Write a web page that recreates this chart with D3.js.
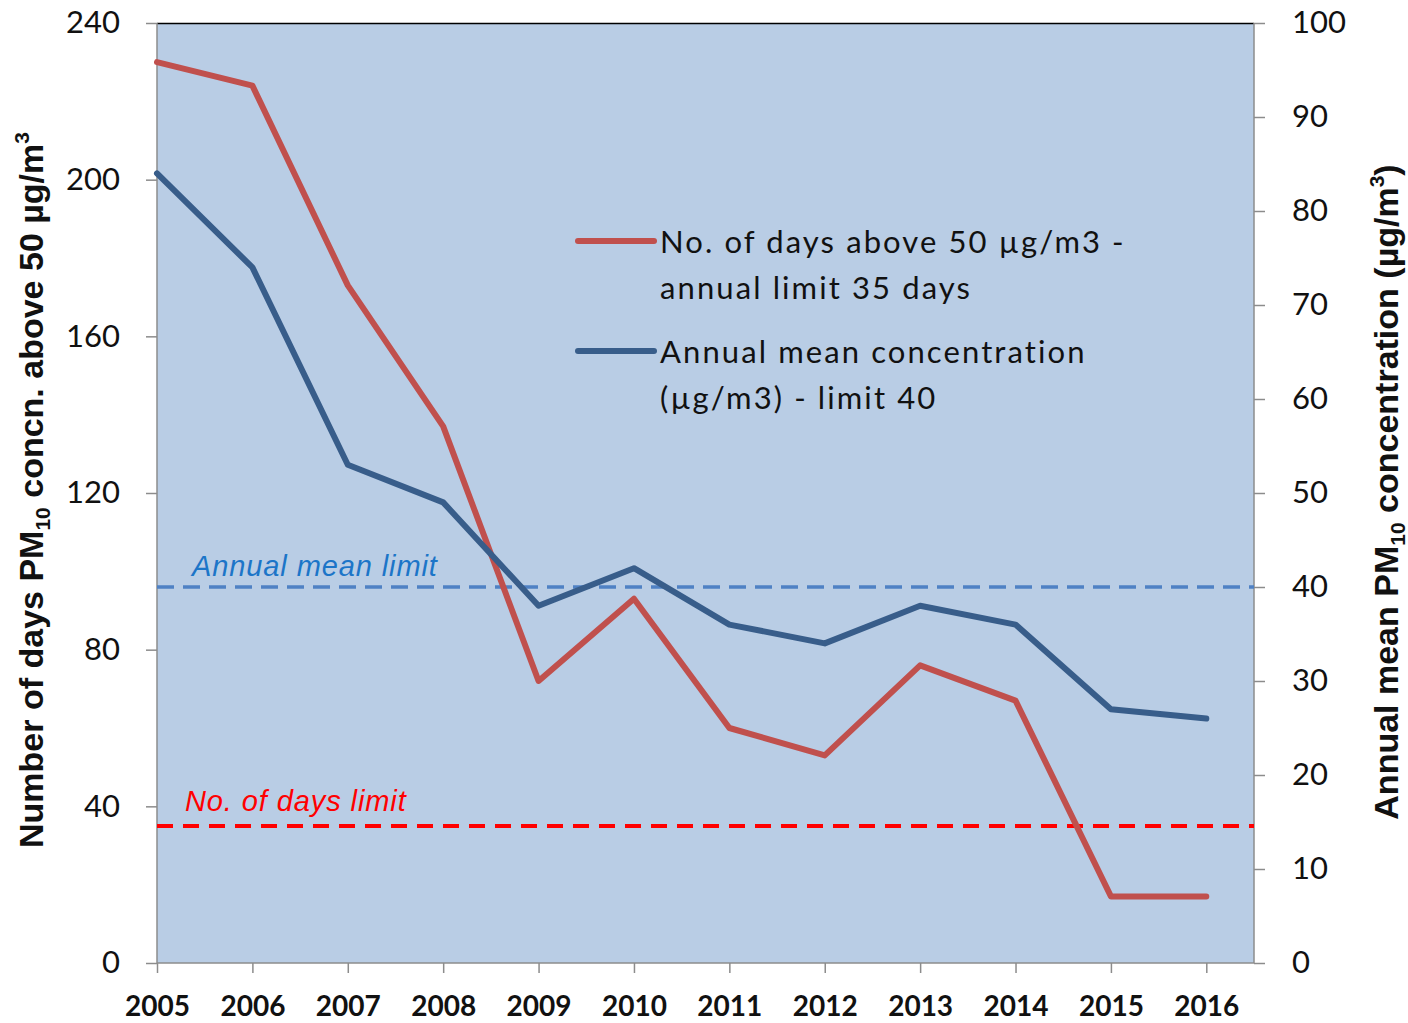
<!DOCTYPE html>
<html><head><meta charset="utf-8">
<script src="https://cdn.jsdelivr.net/npm/d3@7"></script>
<style>body{margin:0;background:#fff}</style>
</head><body>
<svg id="c" width="1408" height="1023"></svg>
<script>
const years = [2005,2006,2007,2008,2009,2010,2011,2012,2013,2014,2015,2016];
const daysAbove = [230,224,173,137,72,93,60,53,76,67,17,17];
const annualMean = [84,74,53,49,38,42,36,34,38,36,27,26];
const leftTicks = [0,40,80,120,160,200,240];
const rightTicks = [0,10,20,30,40,50,60,70,80,90,100];
const daysLimit = 35;
const meanLimit = 40;
const legendLabels = [["No. of days above 50 µg/m3 -","annual limit 35 days"],["Annual mean concentration","(µg/m3) - limit 40"]];

const svg = d3.select("#c");
const L=157,R=1254,T=23,B=963;
const x = d3.scaleLinear().domain([2005,2016.5]).range([L,R]);
const yL = d3.scaleLinear().domain([0,240]).range([B,T]);
const yR = d3.scaleLinear().domain([0,100]).range([B,T]);
const font = "Lato, 'Open Sans', sans-serif";

svg.append("rect").attr("x",L).attr("y",T).attr("width",R-L).attr("height",B-T).attr("fill","#B9CDE5");
svg.append("line").attr("x1",L).attr("x2",R).attr("y1",T+0.5).attr("y2",T+0.5).attr("stroke","#000").attr("stroke-width",1.5);

// left axis
const gL = svg.append("g").attr("transform",`translate(${L},0)`);
gL.call(d3.axisLeft(yL).tickValues(d3.range(0,241,5)).tickSize(11).tickFormat(""));
gL.call(d3.axisLeft(yL).tickValues(leftTicks).tickSize(11).tickPadding(26).tickFormat(d3.format("d")));
gL.selectAll("path,line").attr("stroke","#8c8c8c").attr("stroke-width",1.5);
gL.selectAll("text").attr("font-family",font).attr("font-size",31).attr("fill","#111");
gL.select(".domain").attr("d",`M0,${T}V${B}`);

// right axis
const gR = svg.append("g").attr("transform",`translate(${R},0)`);
gR.call(d3.axisRight(yR).tickValues(rightTicks).tickSize(11).tickPadding(27).tickFormat(d3.format("d")));
gR.selectAll("path,line").attr("stroke","#8c8c8c").attr("stroke-width",1.5);
gR.selectAll("text").attr("font-family",font).attr("font-size",31).attr("fill","#111");
gR.select(".domain").attr("d",`M0,${T}V${B}`);

// bottom axis
const gB = svg.append("g").attr("transform",`translate(0,${B})`);
gB.call(d3.axisBottom(x).tickValues(years).tickSize(10).tickPadding(23).tickFormat(d3.format("d")));
gB.selectAll("path,line").attr("stroke","#8c8c8c").attr("stroke-width",1.5);
gB.select(".domain").attr("d",`M${L},0H${R}`);
gB.selectAll("text").attr("font-family",font).attr("font-size",28).attr("font-weight","bold").attr("fill","#111");

// limit lines
svg.append("line").attr("x1",L).attr("x2",R).attr("y1",yR(meanLimit)).attr("y2",yR(meanLimit))
  .attr("stroke","#4F81C4").attr("stroke-width",3.5).attr("stroke-dasharray","17,9");
svg.append("line").attr("x1",L).attr("x2",R).attr("y1",yL(daysLimit)).attr("y2",yL(daysLimit))
  .attr("stroke","#FF0000").attr("stroke-width",4).attr("stroke-dasharray","16,10");
const af = "'Liberation Sans', Arial, sans-serif";
svg.append("text").attr("x",192).attr("y",yR(meanLimit)-11).text("Annual mean limit")
  .attr("font-family",af).attr("font-style","italic").attr("font-size",29).attr("letter-spacing",0.9).attr("fill","#1C75C8");
svg.append("text").attr("x",185).attr("y",yL(daysLimit)-15).text("No. of days limit")
  .attr("font-family",af).attr("font-style","italic").attr("font-size",29).attr("letter-spacing",0.9).attr("fill","#FF0000");

// series
const lineL = d3.line().x((d,i)=>x(years[i])).y(d=>yL(d));
const lineR = d3.line().x((d,i)=>x(years[i])).y(d=>yR(d));
svg.append("path").attr("d",lineL(daysAbove)).attr("fill","none").attr("stroke","#C0504D").attr("stroke-width",6).attr("stroke-linejoin","round").attr("stroke-linecap","round");
svg.append("path").attr("d",lineR(annualMean)).attr("fill","none").attr("stroke","#385D8A").attr("stroke-width",6).attr("stroke-linejoin","round").attr("stroke-linecap","round");

// legend
const legColors = ["#C0504D","#385D8A"];
const legY = [241,351];
legendLabels.forEach((lab,i)=>{
  svg.append("line").attr("x1",578).attr("x2",654).attr("y1",legY[i]).attr("y2",legY[i]).attr("stroke",legColors[i]).attr("stroke-width",6).attr("stroke-linecap","round");
  const t = svg.append("text").attr("x",660).attr("y",legY[i]+12).attr("font-family",font).attr("font-size",31).attr("letter-spacing",2.1).attr("fill","#111");
  t.append("tspan").attr("x",660).text(lab[0]);
  t.append("tspan").attr("x",660).attr("dy",46).text(lab[1]);
});

// axis titles
const tf = "'Liberation Sans', Arial, sans-serif";
const lt = svg.append("text").attr("transform","translate(43,490) rotate(-90)").attr("text-anchor","middle")
  .attr("font-family",tf).attr("font-weight","bold").attr("font-size",34).attr("fill","#111");
lt.append("tspan").text("Number of days PM");
lt.append("tspan").attr("font-size",21).attr("dy",7).text("10");
lt.append("tspan").attr("dy",-7).text(" concn. above 50 µg/m");
lt.append("tspan").attr("font-size",21).attr("dy",-14).text("3");
const rt = svg.append("text").attr("transform","translate(1398,492) rotate(-90)").attr("text-anchor","middle")
  .attr("font-family",tf).attr("font-weight","bold").attr("font-size",34).attr("fill","#111");
rt.append("tspan").text("Annual mean PM");
rt.append("tspan").attr("font-size",21).attr("dy",7).text("10");
rt.append("tspan").attr("dy",-7).text(" concentration (µg/m");
rt.append("tspan").attr("font-size",21).attr("dy",-14).text("3");
rt.append("tspan").attr("dy",14).text(")");
</script>
</body></html>
